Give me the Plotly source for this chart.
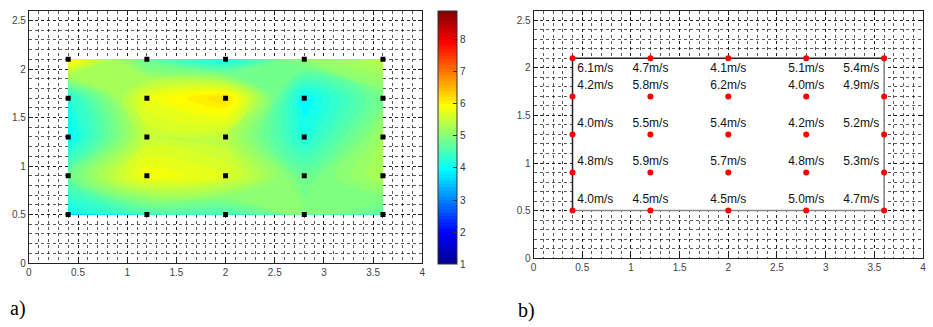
import plotly.graph_objects as go

# ---- data ----
x_pts = [0.4, 1.2, 2.0, 2.8, 3.6]
y_pts = [0.5, 0.9, 1.3, 1.7, 2.1]
# wind speed (m/s), rows from y=0.5 (bottom) to y=2.1 (top)
speed = [
    [4.0, 4.5, 4.5, 5.0, 4.7],
    [4.8, 5.9, 5.7, 4.8, 5.3],
    [4.0, 5.5, 5.4, 4.2, 5.2],
    [4.2, 5.8, 6.2, 4.0, 4.9],
    [6.1, 4.7, 4.1, 5.1, 5.4],
]
x_ticks = [0, 0.5, 1, 1.5, 2, 2.5, 3, 3.5, 4]
y_ticks = [0, 0.5, 1, 1.5, 2, 2.5]
cbar_ticks = [1, 2, 3, 4, 5, 6, 7, 8]
c_min, c_max = 1.0, 8.9

W, H = 933, 327
jet = [[0.0, "#00008F"], [0.125, "#0000FF"], [0.375, "#00FFFF"],
       [0.625, "#FFFF00"], [0.875, "#FF0000"], [1.0, "#800000"]]

px_all = [x for y in y_pts for x in x_pts]
py_all = [y for y in y_pts for x in x_pts]
labels = [f"{speed[j][i]:.1f}m/s" for j in range(len(y_pts)) for i in range(len(x_pts))]
positions = []
for j in range(len(y_pts)):
    for i in range(len(x_pts)):
        v = "bottom" if j == len(y_pts) - 1 else "top"
        h = "right" if i == 0 else ("left" if i == len(x_pts) - 1 else "center")
        positions.append(f"{v} {h}")

fig = go.Figure()

# panel a: interpolated field
fig.add_trace(go.Contour(
    x=x_pts, y=y_pts, z=speed,
    colorscale=jet, zmin=c_min, zmax=c_max, zauto=False,
    contours=dict(start=c_min, end=c_max, size=0.1, coloring="fill", showlines=False),
    line=dict(width=0),
    xaxis="x", yaxis="y",
    colorbar=dict(
        x=438 / W, xanchor="left", xpad=0,
        y=58 / H, yanchor="bottom", ypad=0,
        len=258 / H, lenmode="fraction",
        thickness=19, thicknessmode="pixels",
        outlinewidth=1, outlinecolor="#333",
        tickvals=cbar_ticks, ticks="inside", ticklen=4, tickcolor="#333",
        tickfont=dict(family="Liberation Sans", size=10, color="#333"),
    ),
    hoverinfo="skip",
))
fig.add_trace(go.Scatter(
    x=px_all, y=py_all, mode="markers",
    marker=dict(symbol="square", size=5, color="black"),
    xaxis="x", yaxis="y", showlegend=False,
))

# panel b: rectangle + measured points
x0, x1 = x_pts[0], x_pts[-1]
y0, y1 = y_pts[0], y_pts[-1]
fig.add_trace(go.Scatter(
    x=[x0, x1, x1, x0, x0], y=[y0, y0, y1, y1, y0],
    mode="none", fill="toself", fillcolor="white",
    xaxis="x2", yaxis="y2", showlegend=False, hoverinfo="skip",
))
fig.add_trace(go.Scatter(
    x=[x0, x0, x1], y=[y0, y1, y1], mode="lines",
    line=dict(color="#222", width=1.5),
    xaxis="x2", yaxis="y2", showlegend=False, hoverinfo="skip",
))
fig.add_trace(go.Scatter(
    x=[x0, x1, x1], y=[y0, y0, y1], mode="lines",
    line=dict(color="#888", width=1.5),
    xaxis="x2", yaxis="y2", showlegend=False, hoverinfo="skip",
))
fig.add_trace(go.Scatter(
    x=px_all, y=py_all, mode="markers+text",
    marker=dict(symbol="circle", size=6, color="#FF0000"),
    text=labels, textposition=positions,
    textfont=dict(family="Liberation Sans", size=12, color="#111"),
    xaxis="x2", yaxis="y2", showlegend=False,
))

grid_style = dict(
    showgrid=True, gridcolor="rgba(0,0,0,0.65)", griddash="3px,3px", gridwidth=1,
    minor=dict(dtick=0.1, showgrid=True, gridcolor="rgba(0,0,0,0.65)",
               griddash="3px,3px", gridwidth=1, ticks=""),
    showline=True, linecolor="#222", linewidth=1, mirror="allticks",
    ticks="inside", ticklen=4, tickcolor="#222",
    tickfont=dict(family="Liberation Sans", size=10, color="#444"),
    zeroline=False, fixedrange=True,
)

fig.update_layout(
    width=W, height=H,
    margin=dict(l=0, r=0, t=0, b=0),
    paper_bgcolor="white", plot_bgcolor="white",
    showlegend=False,
    xaxis=dict(domain=[26 / W, 422 / W], range=[0, 4], tickvals=x_ticks, anchor="y", **grid_style),
    yaxis=dict(domain=[(H - 268) / H, (H - 11) / H], range=[0, 2.6], tickvals=y_ticks, anchor="x", **grid_style),
    xaxis2=dict(domain=[534 / W, 926 / W], range=[0, 4], tickvals=x_ticks, anchor="y2", **grid_style),
    yaxis2=dict(domain=[(H - 263) / H, (H - 11) / H], range=[0, 2.6], tickvals=y_ticks, anchor="x2", **grid_style),
    annotations=[
        dict(text="a)", x=5 / W, y=(H - 314) / H, xref="paper", yref="paper",
             xanchor="left", yanchor="middle", showarrow=False,
             font=dict(family="Liberation Serif", size=20, color="black")),
        dict(text="b)", x=516 / W, y=(H - 316) / H, xref="paper", yref="paper",
             xanchor="left", yanchor="middle", showarrow=False,
             font=dict(family="Liberation Serif", size=20, color="black")),
    ],
)

fig.write_html(
    "out.html",
    config={"displayModeBar": False},
    post_script="document.body.style.margin='0';document.body.style.padding='0';"
                "document.documentElement.style.overflow='hidden';",
)
